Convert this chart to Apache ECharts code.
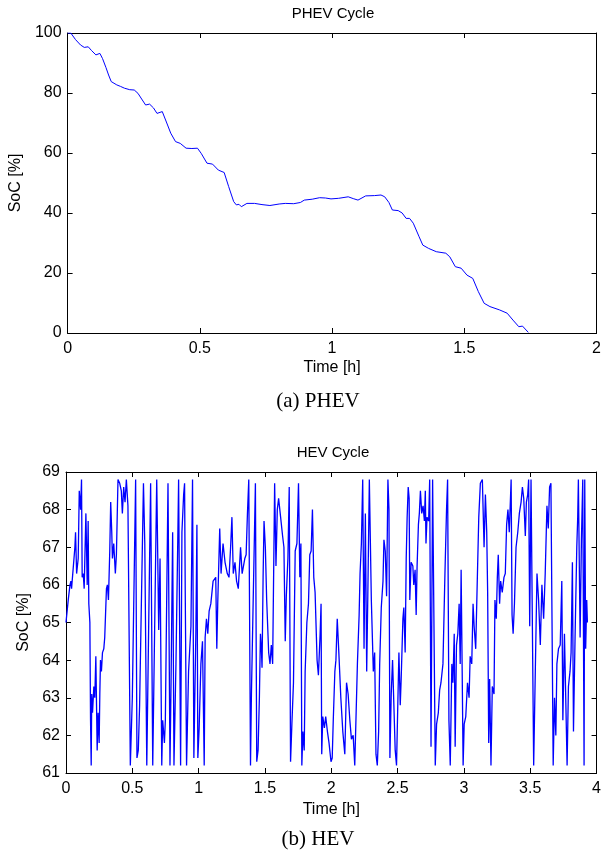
<!DOCTYPE html>
<html><head><meta charset="utf-8">
<script src="https://cdn.jsdelivr.net/npm/echarts@6/dist/echarts.min.js"></script>
<style>html,body{margin:0;padding:0;background:#fff}#c{width:604px;height:854px}</style>
</head><body><div id="c"></div>
<script>
// PHEV cycle: time [h] and SoC [%]
const phevTime = [0,0.012,0.019,0.03,0.049,0.063,0.078,0.09,0.107,0.122,0.132,0.145,0.155,0.165,0.172,0.186,0.2,0.215,0.235,0.252,0.266,0.28,0.295,0.31,0.325,0.338,0.358,0.375,0.39,0.408,0.426,0.448,0.47,0.491,0.505,0.527,0.548,0.57,0.592,0.609,0.628,0.638,0.648,0.657,0.678,0.707,0.735,0.765,0.8,0.823,0.855,0.88,0.895,0.925,0.953,0.975,0.996,1.025,1.061,1.08,1.098,1.127,1.16,1.185,1.199,1.215,1.228,1.25,1.265,1.28,1.293,1.307,1.329,1.343,1.365,1.394,1.43,1.445,1.466,1.488,1.51,1.532,1.553,1.575,1.597,1.633,1.662,1.684,1.706,1.72,1.742];
const phevSoc  = [100,100,99.6,97.8,96,95.2,95.4,94.2,92.7,93.2,91.5,88.5,86,83.8,83.4,82.7,82.2,81.6,81.1,81,79.9,78,76,76.3,75,73.2,73.8,70,66.6,63.8,63.2,61.6,61.5,61.6,59.9,56.6,56.3,54.3,53.5,48.8,43.8,42.7,42.9,42.1,43.2,43.2,42.8,42.5,43,43.2,43.1,43.5,44.3,44.6,45.1,45,44.7,44.9,45.4,44.8,44.3,45.7,45.8,46,45.4,43.5,41,40.8,40,38.2,38.2,36.6,32.1,29.3,28.2,27.1,26.6,25.4,22.1,21.6,19.3,18.2,13.8,9.9,8.8,7.7,6.6,4.3,2.1,2.3,0.2];

// HEV cycle: time [h] and SoC [%]
const hevTime = [0,0.017,0.03,0.037,0.042,0.067,0.072,0.08,0.092,0.1,0.11,0.117,0.122,0.13,0.137,0.15,0.16,0.167,0.172,0.18,0.185,0.19,0.194,0.2,0.21,0.217,0.225,0.235,0.242,0.25,0.255,0.26,0.267,0.275,0.285,0.292,0.305,0.312,0.32,0.33,0.337,0.345,0.35,0.36,0.372,0.38,0.392,0.405,0.417,0.425,0.435,0.445,0.455,0.467,0.485,0.5,0.525,0.535,0.545,0.555,0.584,0.594,0.609,0.638,0.654,0.684,0.699,0.709,0.722,0.729,0.742,0.749,0.769,0.784,0.792,0.804,0.814,0.829,0.844,0.849,0.864,0.874,0.887,0.894,0.899,0.909,0.924,0.942,0.954,0.964,0.972,0.979,0.987,0.994,1.004,1.017,1.029,1.042,1.049,1.059,1.069,1.079,1.092,1.109,1.129,1.137,1.144,1.159,1.169,1.184,1.199,1.216,1.229,1.241,1.251,1.261,1.274,1.286,1.299,1.316,1.328,1.348,1.358,1.368,1.378,1.391,1.398,1.428,1.438,1.448,1.458,1.466,1.473,1.478,1.486,1.493,1.503,1.513,1.528,1.538,1.548,1.558,1.573,1.583,1.593,1.603,1.618,1.633,1.643,1.653,1.661,1.673,1.683,1.693,1.703,1.715,1.728,1.741,1.753,1.763,1.771,1.778,1.786,1.796,1.803,1.816,1.828,1.838,1.848,1.858,1.868,1.878,1.893,1.903,1.916,1.923,1.928,1.936,1.948,1.958,1.971,1.983,1.998,2.007,2.015,2.027,2.035,2.045,2.057,2.072,2.087,2.102,2.115,2.127,2.14,2.152,2.165,2.177,2.197,2.21,2.217,2.227,2.237,2.247,2.257,2.267,2.275,2.287,2.302,2.317,2.327,2.337,2.347,2.357,2.365,2.377,2.39,2.397,2.407,2.417,2.427,2.435,2.442,2.452,2.462,2.472,2.482,2.492,2.502,2.51,2.52,2.527,2.54,2.547,2.557,2.565,2.572,2.58,2.587,2.592,2.602,2.615,2.622,2.632,2.64,2.647,2.657,2.664,2.672,2.682,2.692,2.702,2.709,2.714,2.722,2.734,2.742,2.752,2.764,2.777,2.784,2.794,2.807,2.817,2.827,2.842,2.857,2.869,2.877,2.887,2.897,2.909,2.917,2.927,2.934,2.944,2.954,2.964,2.972,2.979,2.987,2.994,3.002,3.014,3.027,3.039,3.047,3.059,3.069,3.077,3.089,3.102,3.112,3.124,3.139,3.152,3.162,3.172,3.179,3.187,3.194,3.204,3.214,3.227,3.234,3.244,3.252,3.259,3.269,3.277,3.289,3.302,3.312,3.322,3.332,3.342,3.356,3.363,3.371,3.381,3.393,3.406,3.418,3.431,3.441,3.451,3.463,3.471,3.481,3.488,3.496,3.506,3.526,3.551,3.563,3.576,3.588,3.601,3.613,3.626,3.636,3.646,3.656,3.663,3.673,3.683,3.693,3.701,3.713,3.726,3.738,3.746,3.758,3.771,3.778,3.788,3.8,3.808,3.818,3.826,3.838,3.851,3.858,3.863,3.876,3.886,3.896,3.906,3.911,3.918,3.926,3.931];
const hevSoc  = [65.0,65.6,66.0,66.1,65.9,67.0,67.4,66.3,66.7,68.5,68.0,68.8,66.2,66.3,65.9,67.9,66.0,67.7,65.5,65.0,62.4,61.2,63.1,62.6,63.3,63.0,64.1,61.6,62.6,61.8,63.1,64.0,63.7,64.2,64.3,64.6,65.9,66.0,65.6,66.9,68.2,67.4,66.7,67.1,66.3,66.8,68.8,68.7,68.5,67.9,68.6,68.2,68.8,68.1,61.2,63.0,68.8,61.4,61.6,62.8,68.7,67.1,61.2,68.7,61.2,68.8,64.8,66.7,61.2,62.4,61.8,62.4,68.7,61.2,63.4,67.4,61.2,63.9,67.5,68.8,61.2,67.4,68.4,68.7,65.8,61.2,63.7,64.9,68.8,61.4,63.2,64.7,67.6,61.4,62.2,63.9,64.5,61.2,64.6,65.1,64.7,65.3,65.5,66.1,66.2,64.3,65.5,67.5,66.3,67.1,66.6,66.3,66.2,67.0,67.8,66.3,66.6,66.1,65.9,67.0,66.3,66.7,66.8,67.9,68.8,61.2,63.1,68.7,61.3,61.6,63.0,64.7,64.3,63.8,66.2,67.7,67.0,65.6,64.2,63.9,64.4,63.9,68.7,66.5,68.0,68.3,67.8,67.3,67.0,64.5,65.7,66.7,68.6,61.3,62.3,63.4,66.9,67.1,68.7,66.2,67.1,61.2,62.1,61.6,63.7,65.0,65.5,66.8,66.9,68.0,66.2,65.8,64.0,63.6,64.7,65.5,61.5,62.5,62.2,62.5,62.1,61.8,61.3,61.4,62.4,63.7,64.0,65.1,64.2,63.0,62.1,61.5,63.4,63.1,62.4,61.9,62.0,61.2,63.9,65.2,66.3,67.1,68.8,64.3,67.9,63.7,65.6,68.8,65.6,63.7,64.2,61.5,61.2,62.1,63.9,65.4,66.1,67.2,66.9,65.7,68.8,68.0,61.4,63.1,64.0,64.0,61.6,61.2,62.9,64.2,62.8,63.5,65.1,65.4,64.2,66.7,67.8,68.6,68.3,65.6,66.6,66.5,66.0,66.4,65.2,66.5,67.6,67.9,68.5,67.9,68.1,67.7,68.5,67.1,67.8,67.7,68.8,61.7,68.8,63.9,61.2,62.3,62.6,63.2,63.4,63.9,66.3,68.0,68.8,62.4,61.2,63.9,63.4,64.7,61.7,64.4,64.7,65.5,63.9,66.4,63.7,61.2,62.3,62.5,63.4,63.0,64.1,63.9,65.5,64.9,64.3,66.3,67.8,68.7,68.8,67.0,68.4,67.4,65.8,61.8,63.5,61.2,63.3,63.1,65.6,65.1,66.2,66.8,65.5,66.1,65.8,66.2,66.3,67.6,68.0,67.4,68.8,65.2,64.7,65.5,67.0,67.4,67.9,68.2,68.6,68.3,67.3,68.2,68.4,68.8,64.9,68.8,61.2,66.3,65.6,64.4,66.0,65.1,66.3,68.1,67.5,68.6,68.7,65.6,61.2,63.0,62.0,63.9,64.3,64.4,66.1,62.4,64.7,64.7,61.2,63.3,63.7,64.2,66.6,62.1,64.6,67.0,67.8,68.8,64.6,67.2,68.8,61.2,68.8,64.3,65.6,65.0];

const phevXTicks = [0, 0.5, 1, 1.5, 2];
const hevXTicks = [0, 0.5, 1, 1.5, 2, 2.5, 3, 3.5, 4];

const SANS = '"Liberation Sans", Arial, Helvetica, sans-serif';
const SERIF = '"Liberation Serif", "DejaVu Serif", serif';

function pairs(xs, ys) { return xs.map((x, i) => [x, ys[i]]); }

const chart = echarts.init(document.getElementById('c'), null, {renderer: 'canvas'});

function xAx(gi, max, interval, pos, show, nameGap) {
  return {
    type: 'value', gridIndex: gi, min: 0, max: max, interval: interval, position: pos,
    name: show ? 'Time [h]' : '', nameLocation: 'middle', nameGap: nameGap,
    nameTextStyle: {color: '#000', fontFamily: SANS, fontSize: 16},
    axisLine: {show: true, onZero: false, lineStyle: {color: '#000', width: 1}},
    axisTick: {show: true, inside: true, length: 5, lineStyle: {color: '#000'}},
    axisLabel: {show: show, color: '#000', fontFamily: SANS, fontSize: 16, margin: 8},
    splitLine: {show: false}
  };
}
function yAx(gi, min, max, interval, pos, show, nameGap) {
  return {
    type: 'value', gridIndex: gi, min: min, max: max, interval: interval, position: pos,
    name: show ? 'SoC [%]' : '', nameLocation: 'middle', nameGap: nameGap, nameRotate: 90,
    nameTextStyle: {color: '#000', fontFamily: SANS, fontSize: 16},
    axisLine: {show: true, onZero: false, lineStyle: {color: '#000', width: 1}},
    axisTick: {show: true, inside: true, length: 5, lineStyle: {color: '#000'}},
    axisLabel: {show: show, color: '#000', fontFamily: SANS, fontSize: 16, margin: 6},
    splitLine: {show: false}
  };
}

chart.setOption({
  animation: false,
  backgroundColor: '#fff',
  title: [
    {text: 'PHEV Cycle', left: 333, top: 6, textAlign: 'center', padding: 0,
     textStyle: {fontFamily: SANS, fontSize: 15, fontWeight: 'normal', color: '#000'}},
    {text: 'HEV Cycle', left: 333, top: 445, textAlign: 'center', padding: 0,
     textStyle: {fontFamily: SANS, fontSize: 15, fontWeight: 'normal', color: '#000'}},
    {text: '(a) PHEV', left: 318, top: 391, textAlign: 'center', padding: 0,
     textStyle: {fontFamily: SERIF, fontSize: 21, fontWeight: 'normal', color: '#000'}},
    {text: '(b) HEV', left: 318, top: 829, textAlign: 'center', padding: 0,
     textStyle: {fontFamily: SERIF, fontSize: 21, fontWeight: 'normal', color: '#000'}}
  ],
  grid: [
    {left: 66, top: 33, width: 534, height: 300},
    {left: 66, top: 472, width: 534, height: 301}
  ],
  xAxis: [
    xAx(0, 2, 0.5, 'bottom', true, 27),
    xAx(0, 2, 0.5, 'top', false, 0),
    xAx(1, 4, 0.5, 'bottom', true, 29),
    xAx(1, 4, 0.5, 'top', false, 0)
  ],
  yAxis: [
    yAx(0, 0, 100, 20, 'left', true, 41),
    yAx(0, 0, 100, 20, 'right', false, 0),
    yAx(1, 61, 69, 1, 'left', true, 31),
    yAx(1, 61, 69, 1, 'right', false, 0)
  ],
  series: [
    {type: 'line', xAxisIndex: 0, yAxisIndex: 0, data: pairs(phevTime, phevSoc),
     showSymbol: false, lineStyle: {color: '#0000ff', width: 1}, clip: true},
    {type: 'line', xAxisIndex: 2, yAxisIndex: 2, data: pairs(hevTime, hevSoc),
     showSymbol: false, lineStyle: {color: '#0000ff', width: 1.3}, clip: true}
  ]
});
</script>
</body></html>
